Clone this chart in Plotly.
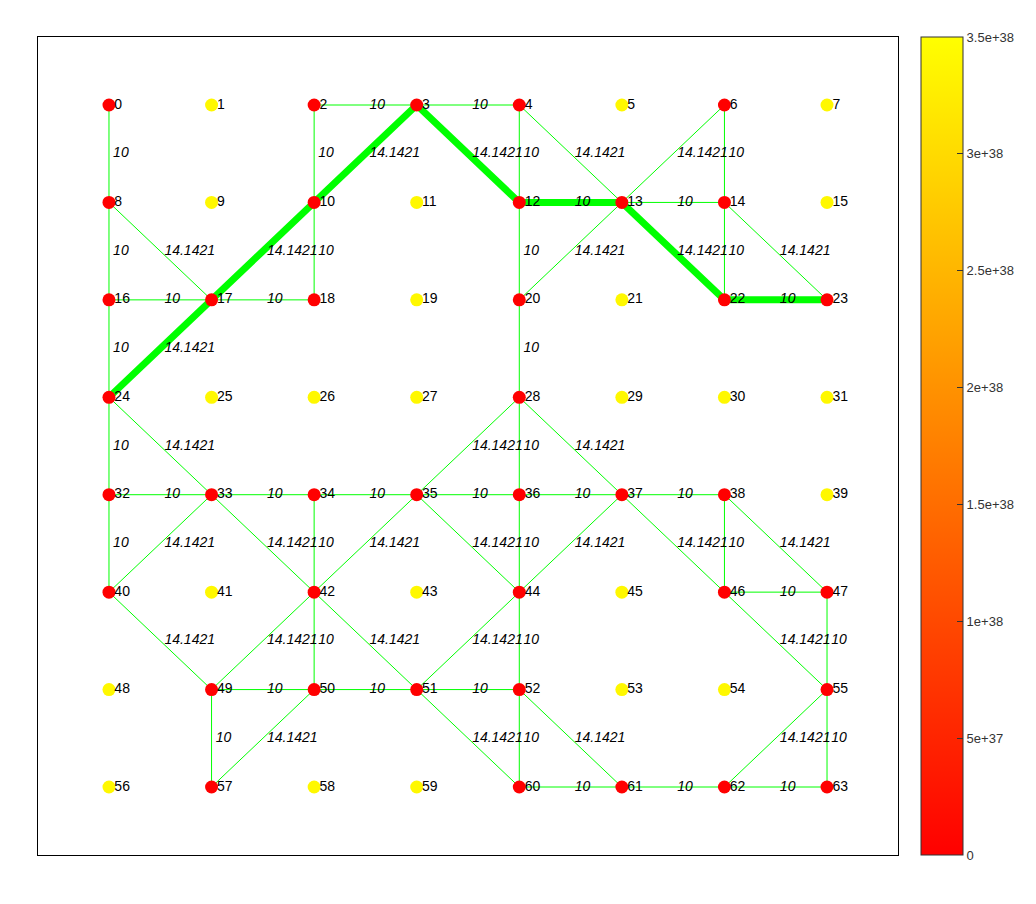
import plotly.graph_objects as go

# 8 x 8 grid, node id -> (col, row), spacing 10
n_cols = 8
spacing = 10
node_ids = list(range(64))

# node state: red nodes are 0, yellow ones are FLT_MAX
yellow_nodes = [1, 5, 7, 9, 11, 15, 19, 21, 25, 26, 27, 29, 30, 31, 39,
                41, 43, 45, 48, 53, 54, 56, 58, 59]
big_value = 3.40282e38
node_values = [big_value if i in yellow_nodes else 0 for i in node_ids]

# edges (source, target) and their weights
edge_src = [0, 2, 3, 2, 3, 3, 4, 4, 6, 6,
            8, 8, 10, 10, 12, 12, 13, 13, 13, 14, 14,
            16, 17, 16, 17, 20, 22,
            24, 24, 28, 28, 28,
            32, 33, 34, 35, 36, 37,
            32, 33, 33, 34, 35, 35, 36, 37, 37, 38, 38,
            46, 40, 42, 42, 42, 44, 44, 46, 47,
            49, 50, 51, 49, 50, 51, 52, 52, 55, 55,
            60, 61, 62]
edge_dst = [8, 3, 4, 10, 10, 12, 12, 13, 13, 14,
            16, 17, 17, 18, 13, 20, 14, 20, 22, 22, 23,
            17, 18, 24, 24, 28, 23,
            32, 33, 35, 36, 37,
            33, 34, 35, 36, 37, 38,
            40, 40, 42, 42, 42, 44, 44, 44, 46, 46, 47,
            47, 49, 49, 50, 51, 51, 52, 55, 55,
            50, 51, 52, 57, 57, 60, 60, 61, 62, 63,
            61, 62, 63]
edge_w = [10, 10, 10, 10, 14.1421, 14.1421, 10, 14.1421, 14.1421, 10,
          10, 14.1421, 14.1421, 10, 10, 10, 10, 14.1421, 14.1421, 10, 14.1421,
          10, 10, 10, 14.1421, 10, 10,
          10, 14.1421, 14.1421, 10, 14.1421,
          10, 10, 10, 10, 10, 10,
          10, 14.1421, 14.1421, 10, 14.1421, 14.1421, 10, 14.1421, 14.1421, 10, 14.1421,
          10, 14.1421, 14.1421, 10, 14.1421, 14.1421, 10, 14.1421, 10,
          10, 10, 10, 10, 14.1421, 14.1421, 10, 14.1421, 14.1421, 10,
          10, 10, 10]

# shortest path found
path = [24, 17, 10, 3, 12, 13, 22, 23]

node_x = [(i % n_cols) * spacing for i in node_ids]
node_y = [(i // n_cols) * spacing for i in node_ids]

ex, ey, mx, my = [], [], [], []
for s, d in zip(edge_src, edge_dst):
    ex += [node_x[s], node_x[d], None]
    ey += [node_y[s], node_y[d], None]
    mx.append((node_x[s] + node_x[d]) / 2)
    my.append((node_y[s] + node_y[d]) / 2)

fig = go.Figure()

fig.add_trace(go.Scatter(x=ex, y=ey, mode="lines",
                         line=dict(color="#00ff00", width=1), hoverinfo="skip"))

fig.add_trace(go.Scatter(x=[node_x[i] for i in path], y=[node_y[i] for i in path],
                         mode="lines", line=dict(color="#00ff00", width=7),
                         hoverinfo="skip"))

# edge weight labels (invisible marker only sets the text offset)
fig.add_trace(go.Scatter(x=mx, y=my, mode="markers+text", text=[f"{w:g}" for w in edge_w],
                         textposition="middle right",
                         marker=dict(size=5, opacity=0),
                         textfont=dict(family="Liberation Sans", size=14,
                                       color="black", style="italic"),
                         hoverinfo="skip"))

fig.add_trace(go.Scatter(
    x=node_x, y=node_y, mode="markers",
    marker=dict(size=13, color=node_values, cmin=0, cmax=3.5e38,
                colorscale=[[0, "#ff0000"], [1, "#ffff00"]],
                line=dict(width=0),
                colorbar=dict(
                    x=1.0267, xanchor="left", xpad=0, ypad=0,
                    y=0.5, yanchor="middle", len=1, thickness=42,
                    outlinecolor="#333333", outlinewidth=1,
                    ticks="inside", ticklen=6, tickcolor="#333333",
                    tickvals=[0, 5e37, 1e38, 1.5e38, 2e38, 2.5e38, 3e38, 3.5e38],
                    ticktext=["0", "5e+37", "1e+38", "1.5e+38", "2e+38",
                              "2.5e+38", "3e+38", "3.5e+38"],
                    tickfont=dict(family="Liberation Sans", size=13, color="#333333"),
                )),
    hoverinfo="skip"))

# node id labels
fig.add_trace(go.Scatter(x=node_x, y=node_y, mode="markers+text",
                         text=[str(i) for i in node_ids], textposition="middle right",
                         marker=dict(size=7, opacity=0),
                         textfont=dict(family="Liberation Sans", size=14, color="black"),
                         hoverinfo="skip"))

fig.update_xaxes(range=[-6.92, 76.92], showgrid=False, zeroline=False,
                 showticklabels=False, ticks="", showline=True, mirror=True,
                 linecolor="black", linewidth=1)
fig.update_yaxes(range=[76.98, -6.98], showgrid=False, zeroline=False,
                 showticklabels=False, ticks="", showline=True, mirror=True,
                 linecolor="black", linewidth=1)

fig.update_layout(width=1036, height=904, showlegend=False,
                  margin=dict(l=30, r=146, t=29, b=57),
                  plot_bgcolor="white", paper_bgcolor="white")

fig.write_html("out.html")
